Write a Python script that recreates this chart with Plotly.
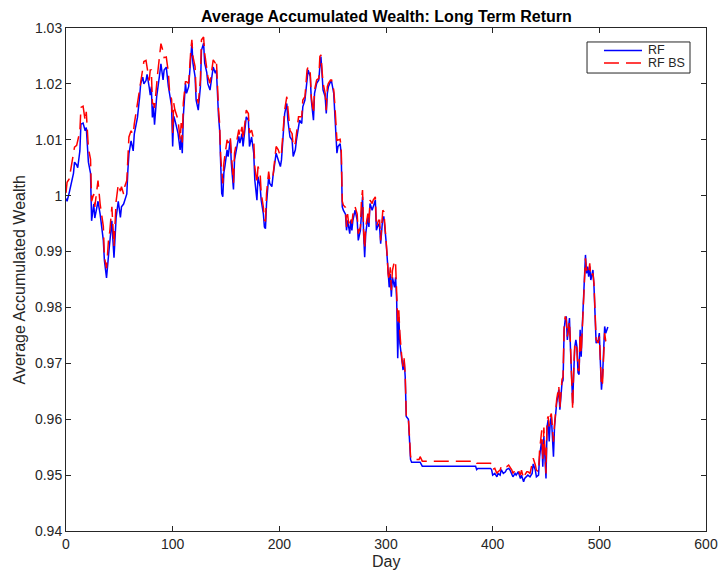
import plotly.graph_objects as go

# Day index and average accumulated wealth for the two strategies
day = [
    0, 1, 3, 5, 7, 8, 10, 11, 13, 14, 16, 18, 19, 21, 23, 24, 26, 27, 29, 30,
    32, 33, 35, 36, 38, 40, 41, 43, 44, 45, 47, 49, 51, 52, 54, 55, 57, 58, 59, 61,
    63, 64, 67, 69, 70, 72, 73, 75, 76, 78, 79, 80, 81, 82, 83, 85, 86, 88, 89, 91,
    92, 94, 96, 97, 99, 100, 101, 102, 104, 105, 107, 108, 109, 110, 112, 113, 115, 116, 117, 118,
    119, 121, 122, 124, 126, 127, 129, 130, 132, 133, 135, 137, 138, 140, 141, 143, 144, 145, 146, 147,
    148, 149, 151, 152, 154, 155, 157, 158, 160, 162, 163, 165, 166, 168, 169, 171, 172, 174, 176, 177,
    179, 180, 182, 183, 185, 186, 187, 188, 190, 191, 193, 194, 196, 197, 199, 201, 202, 204, 205, 207,
    208, 210, 212, 213, 215, 216, 218, 219, 221, 222, 224, 226, 227, 229, 230, 232, 233, 235, 237, 238,
    239, 240, 241, 243, 244, 245, 246, 248, 249, 251, 252, 254, 255, 257, 258, 259, 260, 262, 263, 264,
    265, 266, 267, 268, 269, 271, 273, 274, 276, 277, 278, 279, 280, 281, 283, 284, 285, 287, 288, 290,
    291, 293, 294, 295, 297, 298, 300, 301, 302, 303, 304, 305, 306, 308, 309, 310, 311, 312, 313, 315,
    316, 317, 318, 319, 320, 321, 322, 323, 324, 331, 332, 334, 384, 385, 386, 398, 399, 400, 402, 404,
    405, 407, 408, 410, 412, 413, 415, 416, 418, 419, 421, 422, 424, 426, 427, 429, 430, 432, 433, 435,
    437, 438, 440, 441, 443, 444, 446, 447, 448, 450, 451, 452, 453, 454, 455, 457, 458, 460, 462, 463,
    464, 465, 466, 467, 468, 469, 470, 472, 473, 474, 475, 476, 477, 478, 479, 480, 481, 482, 483, 484,
    485, 486, 487, 488, 489, 490, 491, 492, 494, 495, 496, 497, 499, 500, 501, 502, 503, 504, 505, 506,
    507, 508,
]

rf = [
    0.9995, 0.9990, 1.0005, 1.0020, 1.0040, 1.0060, 1.0055, 1.0050, 1.0080, 1.0128,
    1.0130, 1.0116, 1.0122, 1.0060, 1.0040, 0.9955, 0.9985, 0.9960, 0.9980, 0.9990,
    0.9967, 0.9950, 0.9920, 0.9884, 0.9853, 0.9896, 0.9920, 0.9955, 0.9920, 0.9889,
    0.9961, 0.9990, 0.9961, 0.9980, 0.9985, 0.9990, 1.0003, 1.0045, 1.0075, 1.0098,
    1.0080, 1.0110, 1.0140, 1.0176, 1.0200, 1.0212, 1.0200, 1.0206, 1.0217, 1.0194,
    1.0180, 1.0195, 1.0140, 1.0160, 1.0127, 1.0177, 1.0195, 1.0220, 1.0236, 1.0207,
    1.0225, 1.0230, 1.0195, 1.0183, 1.0160, 1.0088, 1.0142, 1.0136, 1.0118, 1.0112,
    1.0082, 1.0106, 1.0076, 1.0142, 1.0201, 1.0183, 1.0195, 1.0225, 1.0243, 1.0273,
    1.0237, 1.0213, 1.0171, 1.0153, 1.0195, 1.0260, 1.0273, 1.0237, 1.0220, 1.0200,
    1.0189, 1.0213, 1.0230, 1.0219, 1.0225, 1.0142, 1.0118, 1.0058, 1.0004, 0.9998,
    1.0041, 1.0053, 1.0082, 1.0070, 1.0100, 1.0058, 1.0011, 1.0064, 1.0082, 1.0106,
    1.0094, 1.0111, 1.0088, 1.0117, 1.0141, 1.0135, 1.0088, 1.0105, 1.0076, 1.0028,
    0.9992, 1.0034, 1.0016, 0.9992, 0.9968, 0.9944, 0.9941, 0.9986, 1.0034, 1.0022,
    1.0016, 1.0034, 1.0058, 1.0076, 1.0064, 1.0052, 1.0064, 1.0124, 1.0147, 1.0165,
    1.0135, 1.0105, 1.0099, 1.0070, 1.0082, 1.0099, 1.0123, 1.0135, 1.0129, 1.0159,
    1.0171, 1.0213, 1.0225, 1.0213, 1.0171, 1.0135, 1.0183, 1.0201, 1.0207, 1.0231,
    1.0249, 1.0219, 1.0189, 1.0177, 1.0147, 1.0183, 1.0195, 1.0204, 1.0204, 1.0183,
    1.0153, 1.0076, 1.0088, 1.0093, 1.0076, 0.9980, 0.9974, 0.9967, 0.9938, 0.9956,
    0.9944, 0.9932, 0.9956, 0.9938, 0.9956, 0.9974, 0.9956, 0.9920, 0.9938, 0.9980,
    0.9998, 0.9932, 0.9890, 0.9932, 0.9962, 0.9944, 0.9986, 0.9974, 0.9980, 0.9992,
    0.9938, 0.9950, 0.9944, 0.9914, 0.9962, 0.9962, 0.9920, 0.9890, 0.9854, 0.9836,
    0.9860, 0.9819, 0.9854, 0.9836, 0.9854, 0.9813, 0.9709, 0.9783, 0.9736, 0.9700,
    0.9688, 0.9706, 0.9676, 0.9605, 0.9602, 0.9600, 0.9564, 0.9528, 0.9523, 0.9523,
    0.9523, 0.9516, 0.9516, 0.9510, 0.9512, 0.9512, 0.9510, 0.9500, 0.9503, 0.9497,
    0.9503, 0.9500, 0.9510, 0.9503, 0.9506, 0.9510, 0.9512, 0.9510, 0.9503, 0.9497,
    0.9503, 0.9500, 0.9506, 0.9494, 0.9500, 0.9488, 0.9494, 0.9497, 0.9500, 0.9497,
    0.9503, 0.9520, 0.9509, 0.9497, 0.9500, 0.9533, 0.9563, 0.9515, 0.9570, 0.9494,
    0.9587, 0.9599, 0.9560, 0.9595, 0.9605, 0.9533, 0.9587, 0.9629, 0.9653, 0.9617,
    0.9641, 0.9665, 0.9670, 0.9760, 0.9778, 0.9784, 0.9742, 0.9781, 0.9724, 0.9665,
    0.9629, 0.9683, 0.9730, 0.9742, 0.9730, 0.9683, 0.9680, 0.9760, 0.9712, 0.9766,
    0.9813, 0.9879, 0.9894, 0.9861, 0.9873, 0.9855, 0.9873, 0.9849, 0.9867, 0.9837,
    0.9784, 0.9736, 0.9742, 0.9754, 0.9700, 0.9653, 0.9677, 0.9724, 0.9766, 0.9754,
    0.9760, 0.9765,
]

rf_bs = [
    1.0005, 1.0024, 1.0030, 1.0050, 1.0075, 1.0087, 1.0090, 1.0100, 1.0115, 1.0158,
    1.0160, 1.0134, 1.0150, 1.0085, 1.0065, 0.9990, 1.0003, 0.9980, 1.0010, 1.0027,
    0.9985, 0.9970, 0.9945, 0.9890, 0.9870, 0.9925, 0.9935, 0.9980, 0.9950, 0.9910,
    0.9990, 1.0020, 1.0008, 1.0016, 1.0003, 1.0016, 1.0027, 1.0063, 1.0105, 1.0116,
    1.0110, 1.0128, 1.0164, 1.0190, 1.0206, 1.0230, 1.0240, 1.0242, 1.0230, 1.0206,
    1.0225, 1.0225, 1.0165, 1.0165, 1.0157, 1.0207, 1.0220, 1.0255, 1.0272, 1.0258,
    1.0247, 1.0248, 1.0220, 1.0189, 1.0172, 1.0112, 1.0166, 1.0154, 1.0142, 1.0136,
    1.0100, 1.0130, 1.0095, 1.0166, 1.0204, 1.0204, 1.0201, 1.0240, 1.0260, 1.0279,
    1.0249, 1.0231, 1.0183, 1.0165, 1.0207, 1.0279, 1.0284, 1.0255, 1.0231, 1.0213,
    1.0201, 1.0231, 1.0243, 1.0237, 1.0243, 1.0154, 1.0130, 1.0070, 1.0040, 1.0022,
    1.0058, 1.0070, 1.0100, 1.0094, 1.0106, 1.0076, 1.0023, 1.0076, 1.0094, 1.0118,
    1.0106, 1.0123, 1.0100, 1.0129, 1.0153, 1.0147, 1.0112, 1.0117, 1.0100, 1.0052,
    1.0022, 1.0052, 1.0040, 1.0004, 0.9980, 0.9956, 0.9955, 1.0004, 1.0043, 1.0028,
    1.0034, 1.0034, 1.0076, 1.0088, 1.0082, 1.0070, 1.0076, 1.0142, 1.0153, 1.0177,
    1.0153, 1.0117, 1.0111, 1.0088, 1.0094, 1.0111, 1.0141, 1.0141, 1.0141, 1.0171,
    1.0177, 1.0225, 1.0231, 1.0219, 1.0177, 1.0147, 1.0189, 1.0207, 1.0210, 1.0249,
    1.0252, 1.0225, 1.0201, 1.0183, 1.0153, 1.0195, 1.0201, 1.0207, 1.0207, 1.0189,
    1.0165, 1.0099, 1.0100, 1.0101, 1.0085, 0.9990, 0.9983, 0.9979, 0.9944, 0.9967,
    0.9950, 0.9956, 0.9962, 0.9950, 0.9967, 0.9980, 0.9967, 0.9932, 0.9944, 0.9992,
    1.0010, 0.9938, 0.9905, 0.9944, 0.9968, 0.9950, 0.9992, 0.9986, 0.9992, 0.9998,
    0.9944, 0.9956, 0.9956, 0.9920, 0.9974, 0.9971, 0.9926, 0.9896, 0.9860, 0.9848,
    0.9872, 0.9831, 0.9866, 0.9884, 0.9878, 0.9825, 0.9775, 0.9795, 0.9754, 0.9706,
    0.9694, 0.9709, 0.9680, 0.9605, 0.9602, 0.9603, 0.9570, 0.9534, 0.9528, 0.9528,
    0.9533, 0.9525, 0.9525, 0.9521, 0.9521, 0.9521, 0.9510, 0.9510, 0.9512, 0.9503,
    0.9506, 0.9509, 0.9515, 0.9512, 0.9515, 0.9515, 0.9518, 0.9515, 0.9509, 0.9503,
    0.9509, 0.9512, 0.9509, 0.9500, 0.9509, 0.9494, 0.9500, 0.9506, 0.9506, 0.9503,
    0.9520, 0.9530, 0.9518, 0.9509, 0.9506, 0.9545, 0.9580, 0.9527, 0.9585, 0.9503,
    0.9599, 0.9605, 0.9587, 0.9605, 0.9610, 0.9560, 0.9590, 0.9635, 0.9659, 0.9620,
    0.9647, 0.9671, 0.9676, 0.9766, 0.9784, 0.9778, 0.9748, 0.9775, 0.9730, 0.9671,
    0.9617, 0.9689, 0.9736, 0.9736, 0.9724, 0.9689, 0.9686, 0.9754, 0.9718, 0.9760,
    0.9807, 0.9873, 0.9888, 0.9867, 0.9867, 0.9861, 0.9879, 0.9855, 0.9861, 0.9843,
    0.9790, 0.9742, 0.9736, 0.9748, 0.9706, 0.9659, 0.9665, 0.9718, 0.9754, 0.9740,
    0.9736, 0.9735,
]

series_names = ["RF", "RF BS"]
x_ticks = [0, 100, 200, 300, 400, 500, 600]
y_ticks = [0.94, 0.95, 0.96, 0.97, 0.98, 0.99, 1.00, 1.01, 1.02, 1.03]
y_tick_text = ["0.94", "0.95", "0.96", "0.97", "0.98", "0.99", "1", "1.01", "1.02", "1.03"]
x_label = "Day"
y_label = "Average Accumulated Wealth"

FONT = "Liberation Sans, Arial, Helvetica, sans-serif"
AXIS_COLOR = "#262626"
BLUE = "#0000FF"
RED = "#FF0000"
RED_DASH = "15px,7px"

fig = go.Figure()
fig.add_trace(go.Scatter(
    x=day, y=rf, mode="lines", name=series_names[0],
    line=dict(color=BLUE, width=1.5),
))
fig.add_trace(go.Scatter(
    x=day, y=rf_bs, mode="lines", name=series_names[1],
    line=dict(color=RED, width=1.5, dash=RED_DASH),
))

axis_common = dict(
    showgrid=False, zeroline=False, automargin=False,
    showline=True, linecolor=AXIS_COLOR, linewidth=1,
    mirror="ticks", ticks="inside", ticklen=5, tickcolor=AXIS_COLOR, tickwidth=1,
    tickfont=dict(family=FONT, size=14, color=AXIS_COLOR),
)

# Compact boxed legend in the upper right corner (paper coordinates of the plot area)
box = dict(x0=0.8141, x1=0.975, y0=0.9105, y1=0.9722)
sample_x0, sample_x1, text_x = 0.8406, 0.9000, 0.9063
row_y = [0.9553, 0.9304]

shapes = [dict(type="rect", xref="paper", yref="paper", **box,
               line=dict(color=AXIS_COLOR, width=1), fillcolor="white", layer="above")]
annotations = []
for name, color, dash, y in zip(series_names, [BLUE, RED], ["solid", RED_DASH], row_y):
    shapes.append(dict(type="line", xref="paper", yref="paper",
                       x0=sample_x0, x1=sample_x1, y0=y, y1=y,
                       line=dict(color=color, width=1.5, dash=dash), layer="above"))
    annotations.append(dict(xref="paper", yref="paper", x=text_x, y=y,
                            xanchor="left", yanchor="middle", showarrow=False,
                            text=name, font=dict(family=FONT, size=12.5, color=AXIS_COLOR)))

# Axis titles placed as annotations for exact positioning
annotations.append(dict(xref="paper", yref="paper", x=0.5, y=-0.0616,
                        xanchor="center", yanchor="middle", showarrow=False,
                        text=x_label, font=dict(family=FONT, size=16, color=AXIS_COLOR)))
annotations.append(dict(xref="paper", yref="paper", x=-0.0719, y=0.5,
                        xanchor="center", yanchor="middle", showarrow=False, textangle=-90,
                        text=y_label, font=dict(family=FONT, size=16, color=AXIS_COLOR)))

fig.update_layout(
    width=719, height=573,
    margin=dict(l=66, r=13, t=28, b=42),
    paper_bgcolor="white", plot_bgcolor="white",
    font=dict(family=FONT, color=AXIS_COLOR),
    title=dict(
        text="<b>Average Accumulated Wealth: Long Term Return</b>",
        x=0.5375, xanchor="center", y=0.972, yanchor="middle",
        font=dict(family=FONT, size=16, color="black"),
    ),
    xaxis=dict(range=[0, 600], tickvals=x_ticks, **axis_common),
    yaxis=dict(range=[0.94, 1.03], tickvals=y_ticks, ticktext=y_tick_text, **axis_common),
    showlegend=False,
    shapes=shapes,
    annotations=annotations,
)

fig.write_html("out.html")
